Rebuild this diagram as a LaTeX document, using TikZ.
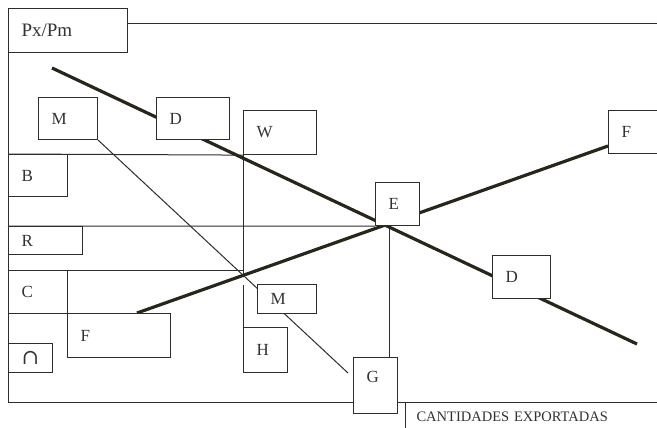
\documentclass[tikz,border=0pt]{standalone}
\usepackage{fontspec}
\setmainfont{Liberation Serif}
\newfontfamily\symfont{DejaVu Serif}
\usetikzlibrary{calc}
\usetikzlibrary{positioning}
\usetikzlibrary{backgrounds}
\definecolor{inkline}{RGB}{45,45,45}
\definecolor{inkthick}{RGB}{40,38,26}
\definecolor{inktext}{RGB}{50,50,50}
\tikzset{
    mybox/.style 2 args={
        draw=inkline,      % 边框
        fill=white,        % 白色填充
        line width=1.1,
        anchor=north west,
        minimum width=#1,
        minimum height=#2,
        text width=#1-26,  % 文字靠左
        inner xsep=13,
        inner ysep=0,
        align=left,
        text=inktext,
        font=\fontsize{17}{20}\selectfont
    },
    thinline/.style={draw=inkline, line width=1.0},
    thickline/.style={draw=inkthick, line width=3.2}
}

\begin{document}
\begin{tikzpicture}[x=1pt, y=-1pt]

\path[use as bounding box, clip] (0,0) rectangle (657,428);

% 定义点
\coordinate (tr) at (657,24);
\coordinate (bl) at (8,402);
\coordinate (br) at (657,402);
\coordinate (d0) at (52,68);
\coordinate (d9) at (637,344);
\coordinate (f0) at (137,313);
\coordinate (f9) at (608,146);
\coordinate (mend) at (348,373);
\coordinate (wcut) at (243,274);
\coordinate (hcut) at (243,285);
\coordinate (ev) at (389,226);

% 方框
\node[mybox={119}{44}, font=\fontsize{19}{22}\selectfont] (pxpm) at (8,8) {Px/Pm};
\node[mybox={59}{42}] (m1) at (38,97) {M};
\node[mybox={73}{42}] (d1) at (156,97) {D};
\node[mybox={73}{44}] (w) at (243,110) {W};
\node[mybox={59}{42}] (b) at (8,154) {B};
\node[mybox={74}{28}] (r) at (8,226) {R};
\node[mybox={59}{43}] (c) at (8,270) {C};
\node[mybox={103}{44}] (f1) at (67,313) {F};
\node[mybox={44}{29}, font=\fontsize{21}{24}\selectfont] (o) at (8,343) {{\symfont ∩}};
\node[mybox={44}{45}] (h) at (243,327) {H};
\node[mybox={59}{29}] (m2) at (257,284) {M};
\node[mybox={44}{56}, text depth=18] (g) at (353,357) {G};
\node[mybox={44}{43}] (e) at (375,182) {E};
\node[mybox={58}{43}] (d2) at (492,255) {D};
\node[mybox={60}{43}] (f2) at (608,110) {F};
\node[mybox={260}{29}, font=\fontsize{14.5}{16}\selectfont,
      inner xsep=11, text width=238] (q) at (405,402) {CANTIDADES EXPORTADAS};

\begin{scope}[on background layer]
% 坐标轴
\draw[thinline] (pxpm.east |- tr) -- (tr);
\draw[thinline] (pxpm.south west) -- (bl) -- (br);
\draw[thinline] (b.north west) -- (w.south west);
\draw[thinline] (r.north west) -- (e.south west);
\draw[thinline] (c.north west) -- (c.north west -| w.west);
\draw[thinline] (w.south west) -- (wcut);
\draw[thinline] (hcut) -- (h.north west);
\draw[thinline] (ev) -- (ev |- g.north);
\draw[thinline] (m1.south east) -- (mend);

% 曲线
\draw[thickline] (d0) -- (d9);
\draw[thickline] (f0) -- (f9);
\end{scope}

\end{tikzpicture}
\end{document}
